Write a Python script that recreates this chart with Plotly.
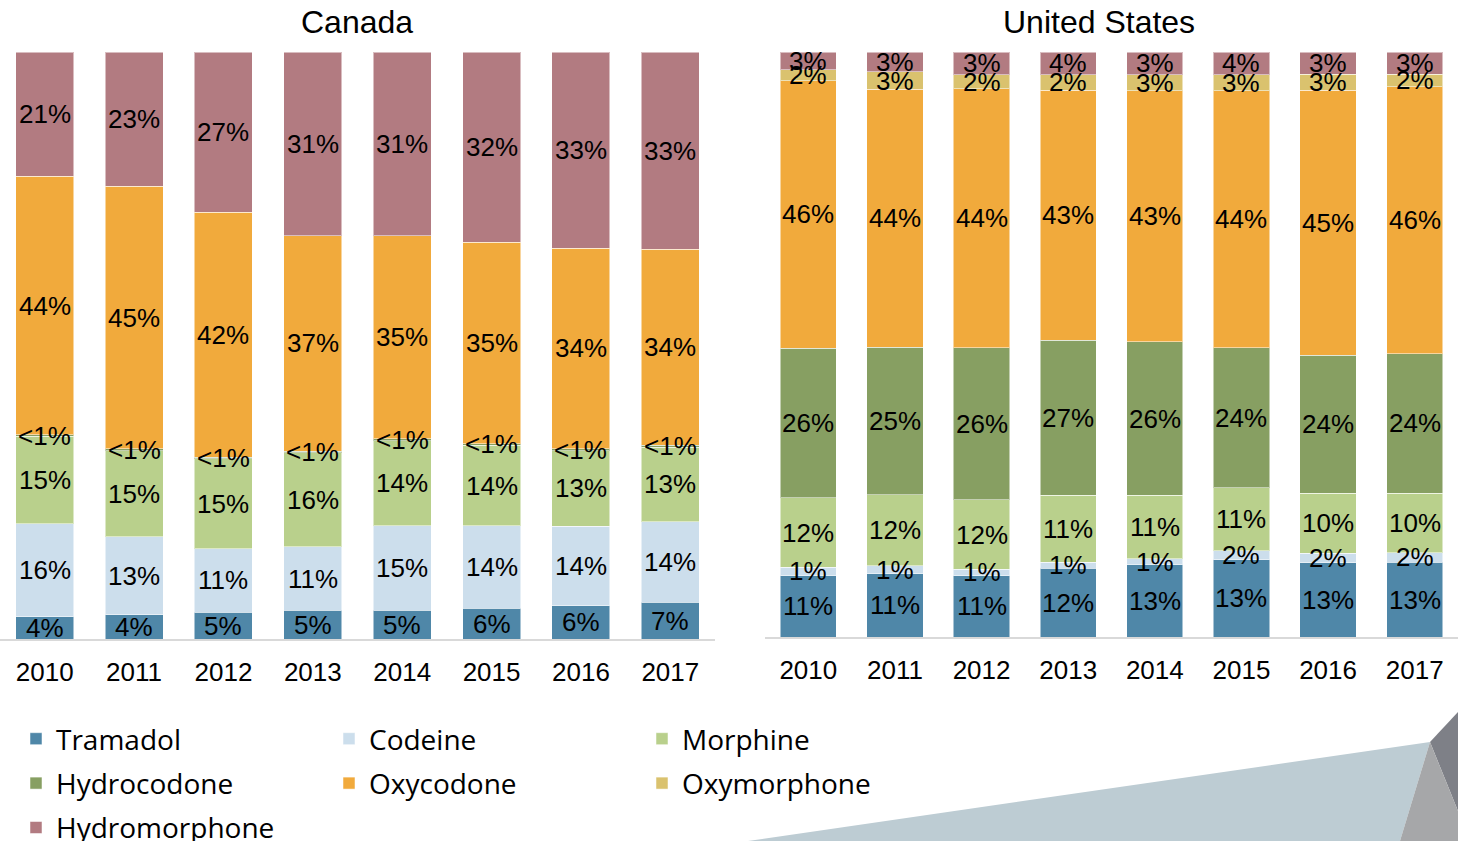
import plotly.graph_objects as go
import numpy as np

years = ["2010", "2011", "2012", "2013", "2014", "2015", "2016", "2017"]

# Canada shares (%)
ca_tramadol = [3.8, 4.1, 4.6, 4.9, 4.9, 5.2, 5.7, 6.3]
ca_codeine = [15.8, 13.3, 10.8, 10.8, 14.4, 14.1, 13.5, 13.7]
ca_morphine = [14.9, 14.7, 15.3, 16.0, 14.5, 13.7, 12.9, 12.7]
ca_hydrocodone = [0.3, 0.3, 0.3, 0.3, 0.3, 0.3, 0.3, 0.3]
ca_oxycodone = [44.0, 44.7, 41.8, 36.7, 34.6, 34.3, 34.2, 33.5]
ca_hydromorphone = [21.2, 22.9, 27.3, 31.3, 31.3, 32.4, 33.4, 33.6]

# Canada labels as printed
ca_tramadol_lbl = ["4%", "4%", "5%", "5%", "5%", "6%", "6%", "7%"]
ca_codeine_lbl = ["16%", "13%", "11%", "11%", "15%", "14%", "14%", "14%"]
ca_morphine_lbl = ["15%", "15%", "15%", "16%", "14%", "14%", "13%", "13%"]
ca_hydrocodone_lbl = ["<1%"] * 8
ca_oxycodone_lbl = ["44%", "45%", "42%", "37%", "35%", "35%", "34%", "34%"]
ca_hydromorphone_lbl = ["21%", "23%", "27%", "31%", "31%", "32%", "33%", "33%"]

# United States shares (%)
us_tramadol = [10.5, 10.8, 10.5, 11.7, 12.3, 13.2, 12.7, 12.8]
us_codeine = [1.4, 1.4, 1.1, 1.1, 1.1, 1.5, 1.6, 1.6]
us_morphine = [11.9, 12.1, 11.8, 11.4, 10.8, 10.8, 10.3, 10.2]
us_hydrocodone = [25.6, 25.3, 26.0, 26.5, 26.2, 23.9, 23.6, 23.8]
us_oxycodone = [45.7, 44.1, 44.2, 42.7, 42.9, 43.9, 45.3, 45.7]
us_oxymorphone = [1.9, 3.0, 2.4, 2.6, 2.7, 2.7, 2.7, 2.1]
us_hydromorphone = [3.0, 3.4, 3.9, 3.9, 3.9, 3.9, 3.8, 3.8]

# United States labels as printed
us_tramadol_lbl = ["11%", "11%", "11%", "12%", "13%", "13%", "13%", "13%"]
us_codeine_lbl = ["1%", "1%", "1%", "1%", "1%", "2%", "2%", "2%"]
us_morphine_lbl = ["12%", "12%", "12%", "11%", "11%", "11%", "10%", "10%"]
us_hydrocodone_lbl = ["26%", "25%", "26%", "27%", "26%", "24%", "24%", "24%"]
us_oxycodone_lbl = ["46%", "44%", "44%", "43%", "43%", "44%", "45%", "46%"]
us_oxymorphone_lbl = ["2%", "3%", "2%", "2%", "3%", "3%", "3%", "2%"]
us_hydromorphone_lbl = ["3%", "3%", "3%", "4%", "3%", "4%", "3%", "3%"]

drugs = ["Tramadol", "Codeine", "Morphine", "Hydrocodone", "Oxycodone", "Oxymorphone", "Hydromorphone"]
colors = {
    "Tramadol": "#4F87A8",
    "Codeine": "#CCDEEC",
    "Morphine": "#B9D08C",
    "Hydrocodone": "#879F62",
    "Oxycodone": "#F1AA3C",
    "Oxymorphone": "#DAC26E",
    "Hydromorphone": "#B27B81",
}

canada = {
    "Tramadol": (ca_tramadol, ca_tramadol_lbl),
    "Codeine": (ca_codeine, ca_codeine_lbl),
    "Morphine": (ca_morphine, ca_morphine_lbl),
    "Hydrocodone": (ca_hydrocodone, ca_hydrocodone_lbl),
    "Oxycodone": (ca_oxycodone, ca_oxycodone_lbl),
    "Hydromorphone": (ca_hydromorphone, ca_hydromorphone_lbl),
}
us = {
    "Tramadol": (us_tramadol, us_tramadol_lbl),
    "Codeine": (us_codeine, us_codeine_lbl),
    "Morphine": (us_morphine, us_morphine_lbl),
    "Hydrocodone": (us_hydrocodone, us_hydrocodone_lbl),
    "Oxycodone": (us_oxycodone, us_oxycodone_lbl),
    "Oxymorphone": (us_oxymorphone, us_oxymorphone_lbl),
    "Hydromorphone": (us_hydromorphone, us_hydromorphone_lbl),
}

# legend layout: three columns
legend_of = {
    "Tramadol": "legend", "Hydrocodone": "legend", "Hydromorphone": "legend",
    "Codeine": "legend2", "Oxycodone": "legend2",
    "Morphine": "legend3", "Oxymorphone": "legend3",
}

fig = go.Figure()
annotations = []
LABEL_FONT = dict(family="Liberation Sans, Arial", size=26, color="#000000")

for country, data, xa, ya in [("Canada", canada, "x", "y"), ("US", us, "x2", "y2")]:
    names = [d for d in drugs if d in data]
    arr = np.array([data[d][0] for d in names], dtype=float)
    totals = arr.sum(axis=0)
    norm = arr / totals * 100
    cum = np.zeros(len(years))
    for i, d in enumerate(names):
        fig.add_trace(go.Bar(
            x=years, y=norm[i], name=d, xaxis=xa, yaxis=ya,
            marker=dict(color=colors[d], line=dict(color="rgba(255,255,255,0.5)", width=1)),
            legendgroup=d, showlegend=(country == "US"),
            legend=legend_of[d], hoverinfo="skip",
        ))
        labels = data[d][1]
        for j in range(len(years)):
            annotations.append(dict(
                x=j, y=float(cum[j] + norm[i][j] / 2), xref=xa, yref=ya,
                xanchor="center", yanchor="middle",
                text=labels[j], showarrow=False, font=LABEL_FONT,
            ))
        cum += norm[i]

W, H = 1458, 841
TOP, BOT = 52, 202
ph = H - TOP - BOT

title_font = dict(family="Liberation Sans, Arial", size=32, color="#000")
annotations.append(dict(x=357 / W, y=1 + 30 / ph, xref="paper", yref="paper", text="Canada",
                        xanchor="center", yanchor="middle", showarrow=False, font=title_font))
annotations.append(dict(x=1099 / W, y=1 + 30 / ph, xref="paper", yref="paper", text="United States",
                        xanchor="center", yanchor="middle", showarrow=False, font=title_font))

axis_common = dict(type="category", range=[-0.5, len(years) - 0.5], autorange=False,
                   showline=True, linecolor="#D9D9D9", linewidth=2,
                   showgrid=False, zeroline=False,
                   ticks="", tickfont=dict(family="Liberation Sans, Arial", size=26, color="#000"),
                   ticklabelstandoff=9, fixedrange=True)
yaxis_common = dict(range=[0, 100], autorange=False, showticklabels=False, showgrid=False,
                    zeroline=False, showline=False, fixedrange=True)

legfont = dict(family="Open Sans", size=28, color="#000")
leg_common = dict(orientation="v", font=legfont, xanchor="left", yanchor="top",
                  tracegroupgap=5, bgcolor="rgba(0,0,0,0)", itemclick=False)
ly = (639 - 714) / ph

# background decoration shapes (pixel positions converted to paper coordinates)
shapes = []
for pts, col in [
    ([(748, 841), (1430, 742), (1400, 841)], "#BDCCD3"),
    ([(1430, 742), (1458, 712), (1458, 811)], "#7E8087"),
    ([(1430, 742), (1458, 811), (1458, 841), (1400, 841)], "#A6A7A9"),
]:
    shapes.append(dict(type="path", xref="paper", yref="paper", layer="below",
                       line=dict(width=0), fillcolor=col,
                       path="M " + " L ".join(
                           f"{x / W:.5f},{(639 - y) / ph:.5f}" for x, y in pts) + " Z"))

fig.update_layout(
    width=W, height=H,
    margin=dict(l=0, r=0, t=TOP, b=BOT, autoexpand=False),
    barmode="stack", bargap=0.35,
    plot_bgcolor="rgba(0,0,0,0)", paper_bgcolor="white",
    xaxis=dict(domain=[0, 715 / W], anchor="y", **axis_common),
    xaxis2=dict(domain=[765 / W, 1], anchor="y2", **axis_common),
    yaxis=dict(domain=[0, 1], anchor="x", **yaxis_common),
    yaxis2=dict(domain=[2 / ph, 1], anchor="x2", **yaxis_common),
    legend=dict(x=16 / W, y=ly, **leg_common),
    legend2=dict(x=329 / W, y=ly, **leg_common),
    legend3=dict(x=642 / W, y=ly, **leg_common),
    annotations=annotations,
    shapes=shapes,
    showlegend=True,
)

fig.write_html(
    "out.html",
    config={"displayModeBar": False},
    post_script="document.body.style.margin='0';document.body.style.overflow='hidden';",
)
